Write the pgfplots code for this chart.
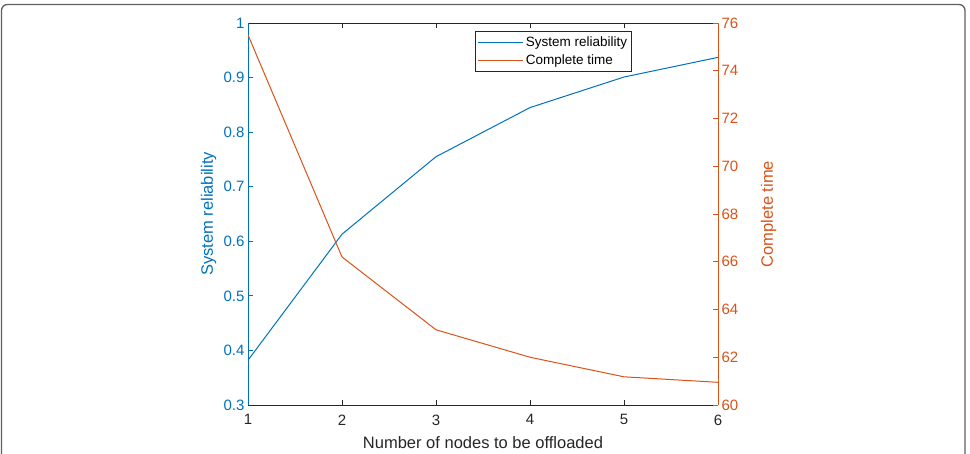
\documentclass[border=0pt]{standalone}
\usepackage{pgfplots}
\pgfplotsset{compat=1.18}
\usepackage{fontspec}
\setmainfont{Liberation Sans}
\definecolor{mblue}{RGB}{0,114,189}
\definecolor{morange}{RGB}{217,83,25}
\definecolor{mgray}{RGB}{38,38,38}
\definecolor{mframe}{RGB}{95,95,95}
\pgfplotstableread{
x rel time
1 0.382 75.50
2 0.613 66.20
3 0.755 63.15
4 0.845 62.00
5 0.901 61.18
6 0.937 60.95
}\datatable
\begin{document}
\begin{tikzpicture}
\path[use as bounding box] (0pt,0pt) rectangle (970pt,454pt);
\draw[overlay, mframe, line width=1.3pt, rounded corners=6pt] (1.5pt,-30pt) rectangle (965pt,449.5pt);
\begin{axis}[
  at={(248pt,49pt)}, anchor=south west,
  scale only axis, width=470pt, height=382pt,
  xmin=1, xmax=6, ymin=0.3, ymax=1,
  xtick={1,2,3,4,5,6},
  ytick={0.3,0.4,0.5,0.6,0.7,0.8,0.9,1},
  /pgf/number format/assume math mode=true,
  /pgf/number format/fixed,
  tick align=inside,
  major tick length=4.7pt,
  xtick pos=both, ytick pos=left,
  separate axis lines,
  x axis line style={mgray, line width=0.8pt},
  y axis line style={mblue, line width=0.8pt},
  x tick style={mgray, line width=0.8pt},
  y tick style={mblue, line width=0.8pt},
  xticklabel style={mgray, font=\fontsize{15}{18}\selectfont, yshift=-6pt},
  yticklabel style={mblue, font=\fontsize{15}{18}\selectfont},
  xlabel={Number of nodes to be offloaded},
  xlabel style={mgray, font=\fontsize{16.5}{19}\selectfont, at={(axis description cs:0.5,0)}, anchor=base, yshift=-43.3pt},
  ylabel={System reliability},
  ylabel style={mblue, font=\fontsize{16.5}{19}\selectfont, at={(axis description cs:-0.0745,0.5)}, anchor=base, rotate=0},
]
\addplot[mblue, line width=1pt] table[x=x, y=rel] {\datatable};
\end{axis}
\begin{axis}[
  at={(248pt,49pt)}, anchor=south west,
  scale only axis, width=470pt, height=382pt,
  xmin=1, xmax=6, ymin=60, ymax=76,
  axis x line=none,
  axis y line*=right,
  ytick={60,62,64,66,68,70,72,74,76},
  /pgf/number format/assume math mode=true,
  tick align=inside,
  major tick length=4.7pt,
  y axis line style={morange, line width=0.8pt, -},
  y tick style={morange, line width=0.8pt},
  yticklabel style={morange, font=\fontsize{15}{18}\selectfont},
  ylabel={Complete time},
  ylabel style={morange, font=\fontsize{16.5}{19}\selectfont, at={(axis description cs:1.117,0.5)}, anchor=base, rotate=0},
  legend style={at={(axis description cs:0.483,0.979)}, anchor=north west, draw=mgray, line width=0.8pt, font=\fontsize{13.5}{16}\selectfont, inner xsep=2.5pt, inner ysep=3pt, row sep=3.5pt},
  legend cell align=left,
  legend image code/.code={\draw[#1, line width=1pt] (0pt,0pt) -- (45pt,0pt);},
]
\addlegendimage{mblue}
\addlegendentry{System reliability}
\addplot[morange, line width=1pt] table[x=x, y=time] {\datatable};
\addlegendentry{Complete time}
\end{axis}
\end{tikzpicture}
\end{document}
